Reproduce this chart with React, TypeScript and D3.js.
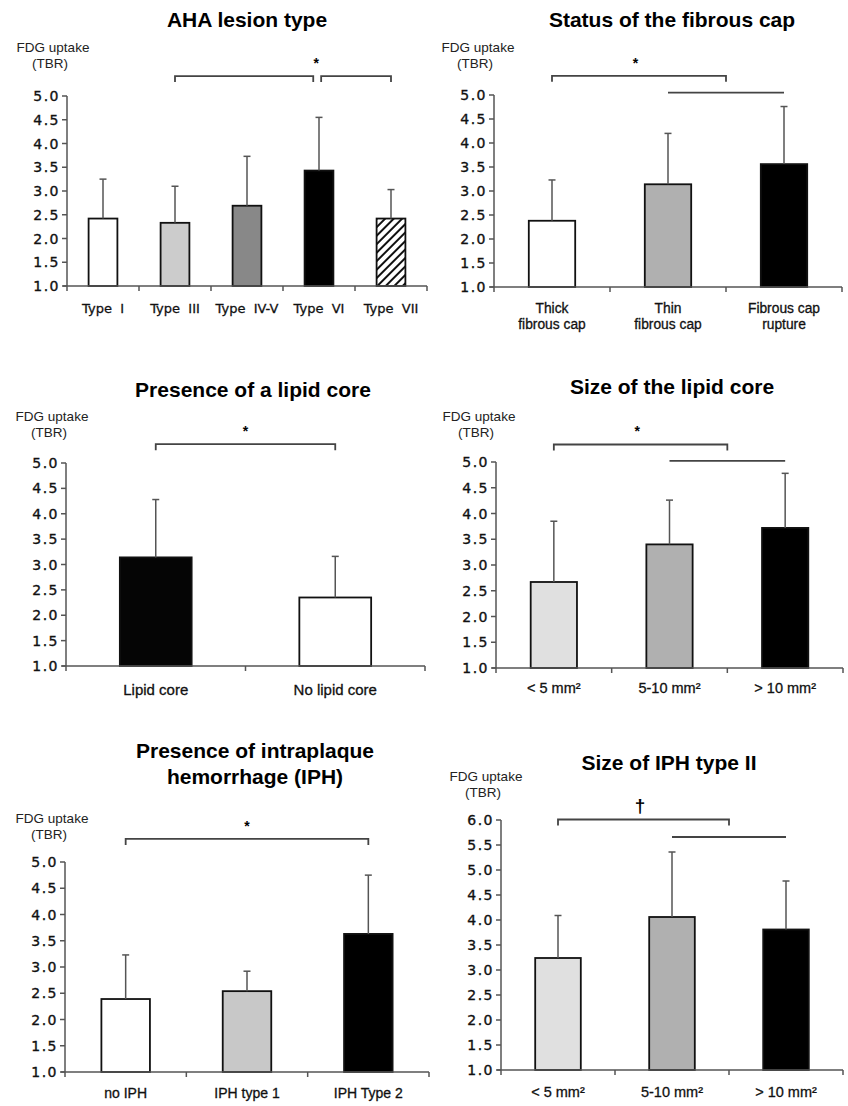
import React from "react";
import * as d3 from "d3";

// ---- data (mean and mean+SD) ----
const ahaTypes = ["Type  I", "Type  III", "Type  IV-V", "Type  VI", "Type  VII"];
const ahaMeans = [2.42, 2.33, 2.69, 3.43, 2.42];
const ahaUpper = [3.25, 3.1, 3.73, 4.55, 3.03];

const capGroups = ["Thick|fibrous cap", "Thin|fibrous cap", "Fibrous cap|rupture"];
const capMeans = [2.38, 3.14, 3.56];
const capUpper = [3.23, 4.2, 4.76];

const lipidGroups = ["Lipid core", "No lipid core"];
const lipidMeans = [3.14, 2.35];
const lipidUpper = [4.28, 3.16];

const lipidSizeGroups = ["< 5 mm²", "5-10 mm²", "> 10 mm²"];
const lipidSizeMeans = [2.67, 3.4, 3.72];
const lipidSizeUpper = [3.85, 4.26, 4.78];

const iphGroups = ["no IPH", "IPH type 1", "IPH Type 2"];
const iphMeans = [2.39, 2.54, 3.63];
const iphUpper = [3.23, 2.92, 4.75];

const iphSizeGroups = ["< 5 mm²", "5-10 mm²", "> 10 mm²"];
const iphSizeMeans = [3.24, 4.06, 3.81];
const iphSizeUpper = [4.09, 5.36, 4.78];

const ticksTo5 = [1, 1.5, 2, 2.5, 3, 3.5, 4, 4.5, 5];
const ticksTo6 = [1, 1.5, 2, 2.5, 3, 3.5, 4, 4.5, 5, 5.5, 6];

type Bracket = { from: number; to: number; y: number; tick: boolean };
type Mark = { at: number; y: number; text: string; size: number };
type Box = {
  x0: number; x1: number; yTop: number; yBot: number;
  titleX: number; titleY: number[]; ylabX: number; ylabY: number; catY: number;
};

const fmt = d3.format(".1f");

function Panel(props: {
  title: string[]; cats: string[]; means: number[]; upper: number[];
  fills: string[]; ticks: number[]; brackets: Bracket[]; marks: Mark[];
  box: Box; catFont: string; catSize: number;
}) {
  const { title, cats, means, upper, fills, ticks, brackets, marks, box } = props;
  const x = d3.scaleBand().domain(cats).range([box.x0, box.x1]).paddingInner(0.6).paddingOuter(0.3);
  const y = d3.scaleLinear().domain([1, ticks[ticks.length - 1]]).range([box.yBot, box.yTop]);
  const step = x.step();
  const cx = (i: number) => box.x0 + step * (i + 0.5);
  const axis = "#555";
  return (
    <g>
      {title.map((t, i) => (
        <text key={t} x={box.titleX} y={box.titleY[i]} textAnchor="middle"
          fontFamily="Liberation Sans, Arial, sans-serif" fontWeight="bold" fontSize={21}>{t}</text>
      ))}
      <text x={box.ylabX} y={box.ylabY} textAnchor="middle" fontFamily="Liberation Sans, Arial, sans-serif" fontSize={13.5} fill="#222">FDG uptake</text>
      <text x={box.ylabX - 3} y={box.ylabY + 16} textAnchor="middle" fontFamily="Liberation Sans, Arial, sans-serif" fontSize={13.5} fill="#222">(TBR)</text>

      {/* bars */}
      {cats.map((c, i) => (
        <rect key={c} x={x(c)} y={y(means[i])} width={x.bandwidth()} height={y(1) - y(means[i])}
          fill={fills[i]} stroke="#111" strokeWidth={1.8} />
      ))}
      {/* upper error bars */}
      {cats.map((c, i) => (
        <g key={c} stroke={axis} strokeWidth={1.5}>
          <line x1={cx(i)} x2={cx(i)} y1={y(means[i])} y2={y(upper[i])} />
          <line x1={cx(i) - 3.5} x2={cx(i) + 3.5} y1={y(upper[i])} y2={y(upper[i])} />
        </g>
      ))}

      {/* y axis */}
      <line x1={box.x0} x2={box.x0} y1={box.yTop} y2={box.yBot + 5} stroke={axis} strokeWidth={1.5} />
      {ticks.map((t) => (
        <g key={t}>
          <line x1={box.x0 - 5} x2={box.x0} y1={y(t)} y2={y(t)} stroke={axis} strokeWidth={1.5} />
          <text x={box.x0 - 7} y={y(t) + 5} textAnchor="end" fontFamily="DejaVu Sans, Verdana, sans-serif"
            fontSize={14} letterSpacing={1.5} fill="#111" stroke="#111" strokeWidth={0.35}>{fmt(t)}</text>
        </g>
      ))}
      {/* x axis */}
      <line x1={box.x0 - 4} x2={box.x1} y1={box.yBot} y2={box.yBot} stroke={axis} strokeWidth={1.5} />
      {cats.map((c, i) => (
        <line key={c} x1={box.x0 + step * (i + 1)} x2={box.x0 + step * (i + 1)} y1={box.yBot} y2={box.yBot + 5}
          stroke={axis} strokeWidth={1.5} />
      ))}
      {cats.map((c, i) => (
        <text key={c} x={cx(i)} textAnchor="middle" fontFamily={props.catFont} fontSize={props.catSize}
          fill="#111" stroke="#111" strokeWidth={0.3} style={{ whiteSpace: "pre" }}>
          {c.split("|").map((line, j) => (
            <tspan key={j} x={cx(i)} y={box.catY + j * 16}>{line}</tspan>
          ))}
        </text>
      ))}

      {/* significance brackets */}
      {brackets.map((b, i) => {
        const xa = cx(b.from), xb = cx(b.to), yy = y(b.y);
        const d = b.tick
          ? `M${xa},${yy + 6}V${yy}H${xb}V${yy + 6}`
          : `M${xa},${yy}H${xb}`;
        return <path key={i} d={d} fill="none" stroke="#444" strokeWidth={1.8} />;
      })}
      {marks.map((m, i) => (
        <text key={i} x={cx(m.at)} y={y(m.y) - 8} textAnchor="middle" fontFamily="Liberation Sans, Arial, sans-serif"
          fontSize={m.size} fontWeight="bold">{m.text}</text>
      ))}
    </g>
  );
}

const sans = "Liberation Sans, Arial, sans-serif";

export default function App() {
  return (
    <svg width={848} height={1106} style={{ position: "absolute", left: 0, top: 0, background: "#fff" }}>
      <defs>
        <pattern id="hatch" patternUnits="userSpaceOnUse" width={6} height={6} patternTransform="rotate(45)">
          <rect width={6} height={6} fill="#fff" />
          <line x1={0} y1={0} x2={0} y2={6} stroke="#111" strokeWidth={4} />
        </pattern>
      </defs>

      <Panel title={["AHA lesion type"]} cats={ahaTypes} means={ahaMeans} upper={ahaUpper}
        fills={["#ffffff", "#cccccc", "#888888", "#000000", "url(#hatch)"]} ticks={ticksTo5}
        brackets={[{ from: 1, to: 2.92, y: 5.42, tick: true }, { from: 3.03, to: 4, y: 5.42, tick: true }]}
        marks={[{ at: 2.96, y: 5.42, text: "*", size: 14 }]}
        box={{ x0: 67, x1: 427, yTop: 96, yBot: 286, titleX: 247, titleY: [27], ylabX: 53, ylabY: 52, catY: 313 }}
        catFont="DejaVu Sans, Verdana, sans-serif" catSize={13} />

      <Panel title={["Status of the fibrous cap"]} cats={capGroups} means={capMeans} upper={capUpper}
        fills={["#ffffff", "#b0b0b0", "#000000"]} ticks={ticksTo5}
        brackets={[{ from: 0, to: 1.5, y: 5.4, tick: true }, { from: 1, to: 2, y: 5.05, tick: false }]}
        marks={[{ at: 0.72, y: 5.4, text: "*", size: 14 }]}
        box={{ x0: 494, x1: 842, yTop: 95, yBot: 287, titleX: 672, titleY: [27], ylabX: 478, ylabY: 52, catY: 313 }}
        catFont={sans} catSize={13.8} />

      <Panel title={["Presence of a lipid core"]} cats={lipidGroups} means={lipidMeans} upper={lipidUpper}
        fills={["#050505", "#ffffff"]} ticks={ticksTo5}
        brackets={[{ from: 0, to: 1, y: 5.37, tick: true }]}
        marks={[{ at: 0.5, y: 5.37, text: "*", size: 14 }]}
        box={{ x0: 66, x1: 425, yTop: 463, yBot: 666, titleX: 253, titleY: [397], ylabX: 52, ylabY: 421, catY: 695 }}
        catFont={sans} catSize={15} />

      <Panel title={["Size of the lipid core"]} cats={lipidSizeGroups} means={lipidSizeMeans} upper={lipidSizeUpper}
        fills={["#e0e0e0", "#b0b0b0", "#000000"]} ticks={ticksTo5}
        brackets={[{ from: 0, to: 1.5, y: 5.34, tick: true }, { from: 1, to: 2, y: 5.02, tick: false }]}
        marks={[{ at: 0.72, y: 5.34, text: "*", size: 14 }]}
        box={{ x0: 496, x1: 843, yTop: 462, yBot: 668, titleX: 672, titleY: [394], ylabX: 479, ylabY: 421, catY: 693 }}
        catFont={sans} catSize={14.5} />

      <Panel title={["Presence of intraplaque", "hemorrhage (IPH)"]} cats={iphGroups} means={iphMeans} upper={iphUpper}
        fills={["#ffffff", "#c8c8c8", "#000000"]} ticks={ticksTo5}
        brackets={[{ from: 0, to: 2, y: 5.44, tick: true }]}
        marks={[{ at: 1, y: 5.44, text: "*", size: 14 }]}
        box={{ x0: 65, x1: 429, yTop: 862, yBot: 1072, titleX: 255, titleY: [758, 784], ylabX: 52, ylabY: 823, catY: 1098 }}
        catFont={sans} catSize={14} />

      <Panel title={["Size of IPH type II"]} cats={iphSizeGroups} means={iphSizeMeans} upper={iphSizeUpper}
        fills={["#e0e0e0", "#b0b0b0", "#000000"]} ticks={ticksTo6}
        brackets={[{ from: 0, to: 1.5, y: 6.01, tick: true }, { from: 1, to: 2, y: 5.66, tick: false }]}
        marks={[{ at: 0.72, y: 6.01, text: "†", size: 19 }]}
        box={{ x0: 501, x1: 843, yTop: 820, yBot: 1070, titleX: 669, titleY: [770], ylabX: 486, ylabY: 781, catY: 1097 }}
        catFont={sans} catSize={14.5} />
    </svg>
  );
}
